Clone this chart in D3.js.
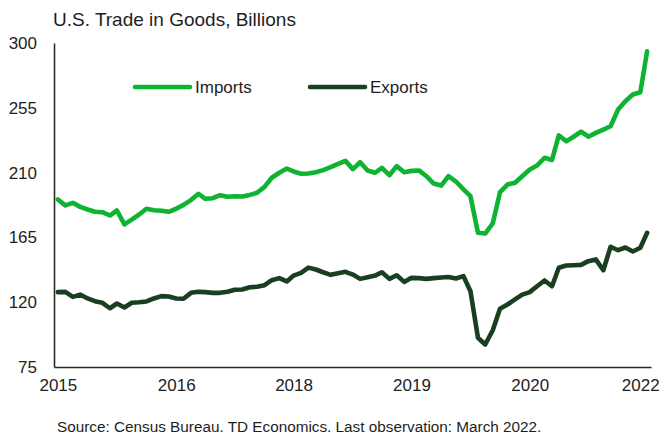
<!DOCTYPE html>
<html>
<head>
<meta charset="utf-8">
<script src="https://cdn.jsdelivr.net/npm/d3@7"></script>
<style>
  body { margin: 0; background: #fff; }
  text { font-family: "Liberation Sans", Arial, sans-serif; }
</style>
</head>
<body>
<div id="chart"></div>
<script>
// monthly data, Jul 2015 .. Mar 2022 (billions of dollars)
var startMonth = new Date(2015, 6, 1),
    endMonth = new Date(2022, 2, 1);

var imports = [
  191.3, 187.2, 189.0, 186.2, 184.4, 182.8, 182.5, 180.2, 183.7, 174.0,
  177.4, 180.9, 184.9, 183.9, 183.5, 182.8, 184.9, 187.6, 190.9, 195.3,
  191.8, 192.2, 194.3, 193.2, 193.6, 193.4, 194.5, 196.0, 200.1, 206.4,
  209.9, 212.8, 210.8, 209.2, 209.4, 210.3, 211.7, 213.8, 216.1, 218.2,
  212.4, 217.2, 211.5, 209.9, 213.3, 208.2, 214.5, 210.3, 211.2, 211.5,
  207.5, 202.4, 201.0, 207.5, 203.8, 198.3, 193.6, 168.2, 167.7, 174.7,
  196.4, 201.7, 202.9, 207.5, 212.2, 214.9, 220.3, 218.8, 235.8, 231.8,
  234.9, 238.5, 234.9, 237.6, 239.9, 242.2, 253.8, 259.6, 264.2, 265.8,
  294.3
];

var exports = [
  127.0, 127.2, 123.7, 125.3, 122.6, 120.7, 119.6, 115.8, 119.1, 116.3,
  119.6, 120.0, 120.5, 122.6, 124.2, 124.0, 122.6, 122.4, 126.5, 127.2,
  127.0, 126.5, 126.5, 127.2, 128.6, 128.8, 130.4, 130.7, 131.8, 135.3,
  136.7, 134.4, 138.5, 140.4, 144.0, 142.7, 140.8, 139.0, 140.1, 141.1,
  139.2, 136.2, 137.4, 138.5, 140.8, 136.2, 138.7, 134.1, 136.9, 136.7,
  136.2, 136.7, 137.2, 137.5, 136.5, 138.1, 127.6, 95.3, 90.6, 100.5,
  115.4, 118.4, 121.9, 125.3, 127.0, 131.1, 135.1, 131.1, 143.9, 145.5,
  145.7, 145.9, 148.5, 149.7, 142.2, 158.5, 156.1, 158.0, 155.2, 157.8,
  168.2
];

var seriesNames = ["Imports", "Exports"];
var seriesColors = ["#0db331", "#193f21"];
var yTicks = [75, 120, 165, 210, 255, 300];
var labelEvery = 16;  // months between x labels

var titleText = "U.S. Trade in Goods, Billions";
var sourceText = "Source: Census Bureau. TD Economics. Last observation: March 2022.";

var width = 661, height = 437;
var margin = {top: 43, right: 10, bottom: 70, left: 54};

var svg = d3.select("#chart")
  .append("svg")
    .attr("width", width)
    .attr("height", height);

var months = d3.timeMonth.range(startMonth, d3.timeMonth.offset(endMonth, 1));

var x = d3.scaleTime()
  .domain([d3.timeDay.offset(startMonth, -16), d3.timeDay.offset(endMonth, 16)])
  .range([margin.left, width - margin.right]);

var y = d3.scaleLinear()
  .domain([75, 300])
  .range([height - margin.bottom, margin.top]);

// title
svg.append("text")
  .attr("x", 53)
  .attr("y", 26)
  .style("font-size", "19px")
  .style("fill", "#1e1e1e")
  .text(titleText);

// y axis
var yAxis = svg.append("g")
  .attr("transform", "translate(" + margin.left + ",0)")
  .call(d3.axisLeft(y).tickValues(yTicks).tickSize(0).tickSizeOuter(0).tickPadding(17));
yAxis.select(".domain").attr("stroke", "#2b2e1f").attr("stroke-width", 1.6);
yAxis.selectAll("text").style("font-size", "17px").style("fill", "#1e1e1e").style("font-family", "Liberation Sans, Arial, sans-serif");

// x axis
var xTickValues = months.filter(function(d, i) { return i % labelEvery === 0; });
var xAxis = svg.append("g")
  .attr("transform", "translate(0," + y(75) + ")")
  .call(d3.axisBottom(x).tickValues(xTickValues).tickFormat(d3.timeFormat("%Y"))
        .tickSize(0).tickSizeOuter(0).tickPadding(12));
xAxis.select(".domain").attr("stroke", "#2b2e1f").attr("stroke-width", 1.6);
xAxis.selectAll("text").style("font-size", "17px").style("fill", "#1e1e1e").style("font-family", "Liberation Sans, Arial, sans-serif");
// keep the last label inside the frame
xAxis.selectAll(".tick").filter(function(d, i, n) { return i === n.length - 1; })
  .select("text").attr("text-anchor", "end").attr("x", 12);

// lines
var line = d3.line()
  .x(function(d, i) { return x(months[i]); })
  .y(function(d) { return y(d); });

[imports, exports].forEach(function(s, k) {
  svg.append("path")
    .datum(s)
    .attr("fill", "none")
    .attr("stroke", seriesColors[k])
    .attr("stroke-width", 4.6)
    .attr("stroke-linejoin", "round")
    .attr("stroke-linecap", "round")
    .attr("d", line);
});

// legend
var legend = svg.append("g");
seriesNames.forEach(function(name, k) {
  var lx = 135 + k * 175;
  legend.append("line")
    .attr("x1", lx).attr("x2", lx + 55)
    .attr("y1", 87).attr("y2", 87)
    .attr("stroke", seriesColors[k])
    .attr("stroke-width", 4.6)
    .attr("stroke-linecap", "round");
  legend.append("text")
    .attr("x", lx + 60)
    .attr("y", 93)
    .style("font-size", "17px")
    .style("fill", "#1e1e1e")
    .text(name);
});

// source note
svg.append("text")
  .attr("x", 57)
  .attr("y", 432)
  .style("font-size", "15.3px")
  .style("fill", "#1e1e1e")
  .text(sourceText);
</script>
</body>
</html>
